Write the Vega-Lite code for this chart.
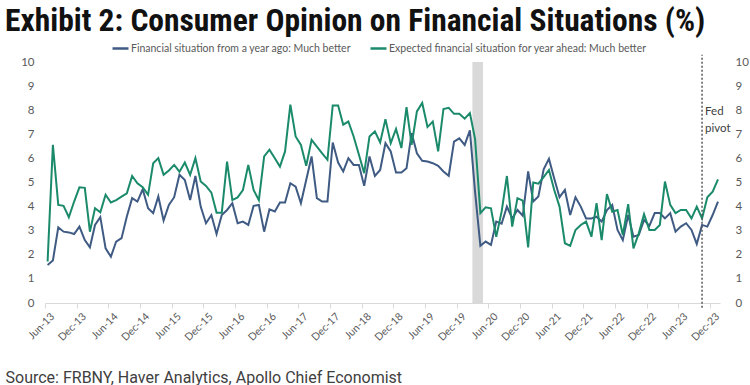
{
  "$schema": "https://vega.github.io/schema/vega-lite/v6.json",
  "width": 675,
  "height": 241,
  "autosize": {"type": "none"},
  "padding": {"left": 45, "top": 62, "right": 30, "bottom": 82},
  "background": "white",
  "title": {
    "text": "Exhibit 2: Consumer Opinion on Financial Situations (%)",
    "anchor": "start", "frame": "group", "dx": -40, "offset": -23, "baseline": "alphabetic",
    "font": "Liberation Sans Narrow, Roboto Condensed, Roboto", "fontWeight": "bold", "fontSize": 31.5, "color": "#111111"
  },
  "config": {
    "view": {"stroke": null},
    "axisX": {"labelOverlap": false}
  },
  "resolve": {"scale": {"y": "independent"}, "axis": {"y": "independent"}},
  "layer": [
    {
      "data": {"values": [{"s": "2020-03-01", "e": "2020-05-01"}]},
      "mark": {"type": "rect", "color": "#d9d9d9"},
      "encoding": {
        "x": {"field": "s", "type": "temporal",
              "scale": {"type": "utc", "domain": [{"year": 2013, "month": "jun", "date": 1, "utc": true}, {"year": 2024, "month": "jan", "date": 28, "utc": true}]},
              "axis": {
                "values": [
                  {"year":2013,"month":6,"date":1,"utc":true},{"year":2013,"month":12,"date":1,"utc":true},
                  {"year":2014,"month":6,"date":1,"utc":true},{"year":2014,"month":12,"date":1,"utc":true},
                  {"year":2015,"month":6,"date":1,"utc":true},{"year":2015,"month":12,"date":1,"utc":true},
                  {"year":2016,"month":6,"date":1,"utc":true},{"year":2016,"month":12,"date":1,"utc":true},
                  {"year":2017,"month":6,"date":1,"utc":true},{"year":2017,"month":12,"date":1,"utc":true},
                  {"year":2018,"month":6,"date":1,"utc":true},{"year":2018,"month":12,"date":1,"utc":true},
                  {"year":2019,"month":6,"date":1,"utc":true},{"year":2019,"month":12,"date":1,"utc":true},
                  {"year":2020,"month":6,"date":1,"utc":true},{"year":2020,"month":12,"date":1,"utc":true},
                  {"year":2021,"month":6,"date":1,"utc":true},{"year":2021,"month":12,"date":1,"utc":true},
                  {"year":2022,"month":6,"date":1,"utc":true},{"year":2022,"month":12,"date":1,"utc":true},
                  {"year":2023,"month":6,"date":1,"utc":true},{"year":2023,"month":12,"date":1,"utc":true}
                ],
                "tickCount": 40,
                "format": "%b-%y", "labelAngle": -45, "labelFont": "Lato", "labelFontSize": 10.5, "labelColor": "#595959",
                "labelOverlap": false, "labelFlush": false, "labelPadding": 3, "labelOffset": 4,
                "tickColor": "#d9d9d9", "tickSize": 5, "domainColor": "#d9d9d9", "grid": false,
                "title": "Source: FRBNY, Haver Analytics, Apollo Chief Economist",
                "titleFont": "Roboto", "titleFontSize": 16, "titleFontWeight": "normal", "titleColor": "#404040",
                "titleAnchor": "start", "titleAlign": "left", "titleBaseline": "alphabetic", "titleX": -40, "titleY": 79
              }},
        "x2": {"field": "e"},
        "y": {"datum": 0, "type": "quantitative", "scale": {"domain": [0, 10]},
              "axis": {"orient": "right", "title": null, "values": [0,1,2,3,4,5,6,7,8,9,10], "domain": false, "ticks": false, "grid": false,
                       "labelColor": "#595959", "labelFont": "Lato", "labelFontSize": 11.5, "labelPadding": 15}},
        "y2": {"datum": 10}
      }
    },
    {
      "data": {"values": [
        {"d":"2013-06","a":1.58,"b":1.72},{"d":"2013-07","a":1.76,"b":6.56},{"d":"2013-08","a":3.14,"b":4.07},{"d":"2013-09","a":2.96,"b":4.03},
        {"d":"2013-10","a":2.93,"b":3.56},{"d":"2013-11","a":2.86,"b":4.21},{"d":"2013-12","a":3.17,"b":4.80},{"d":"2014-01","a":2.61,"b":4.78},
        {"d":"2014-02","a":2.31,"b":2.96},{"d":"2014-03","a":3.24,"b":3.93},{"d":"2014-04","a":3.56,"b":3.76},{"d":"2014-05","a":2.27,"b":4.49},
        {"d":"2014-06","a":1.92,"b":4.17},{"d":"2014-07","a":2.55,"b":4.27},{"d":"2014-08","a":2.69,"b":4.41},{"d":"2014-09","a":3.59,"b":4.55},
        {"d":"2014-10","a":4.35,"b":5.27},{"d":"2014-11","a":4.21,"b":4.97},{"d":"2014-12","a":4.72,"b":4.80},{"d":"2015-01","a":3.93,"b":4.49},
        {"d":"2015-02","a":3.73,"b":5.80},{"d":"2015-03","a":4.42,"b":6.01},{"d":"2015-04","a":3.42,"b":5.32},{"d":"2015-05","a":4.07,"b":5.50},
        {"d":"2015-06","a":4.39,"b":5.73},{"d":"2015-07","a":5.32,"b":5.45},{"d":"2015-08","a":5.10,"b":5.83},{"d":"2015-09","a":4.27,"b":5.32},
        {"d":"2015-10","a":5.27,"b":6.01},{"d":"2015-11","a":4.00,"b":5.04},{"d":"2015-12","a":3.31,"b":4.86},{"d":"2016-01","a":3.65,"b":4.58},
        {"d":"2016-02","a":2.86,"b":3.75},{"d":"2016-03","a":3.65,"b":3.75},{"d":"2016-04","a":3.86,"b":5.87},{"d":"2016-05","a":4.14,"b":4.27},
        {"d":"2016-06","a":3.31,"b":4.38},{"d":"2016-07","a":3.38,"b":4.69},{"d":"2016-08","a":3.24,"b":5.73},{"d":"2016-09","a":4.03,"b":4.69},
        {"d":"2016-10","a":4.07,"b":4.27},{"d":"2016-11","a":2.96,"b":6.08},{"d":"2016-12","a":3.89,"b":6.36},{"d":"2017-01","a":3.80,"b":6.01},
        {"d":"2017-02","a":4.17,"b":5.66},{"d":"2017-03","a":4.17,"b":6.29},{"d":"2017-04","a":4.97,"b":8.23},{"d":"2017-05","a":4.83,"b":6.91},
        {"d":"2017-06","a":4.14,"b":6.56},{"d":"2017-07","a":5.10,"b":5.69},{"d":"2017-08","a":6.08,"b":6.77},{"d":"2017-09","a":4.35,"b":6.49},
        {"d":"2017-10","a":4.21,"b":6.21},{"d":"2017-11","a":4.21,"b":5.94},{"d":"2017-12","a":6.66,"b":8.20},{"d":"2018-01","a":5.83,"b":8.20},
        {"d":"2018-02","a":5.46,"b":7.40},{"d":"2018-03","a":6.01,"b":7.53},{"d":"2018-04","a":5.73,"b":6.91},{"d":"2018-05","a":5.73,"b":6.15},
        {"d":"2018-06","a":4.86,"b":5.39},{"d":"2018-07","a":6.08,"b":6.91},{"d":"2018-08","a":5.27,"b":7.12},{"d":"2018-09","a":5.52,"b":6.66},
        {"d":"2018-10","a":6.63,"b":7.63},{"d":"2018-11","a":6.29,"b":6.63},{"d":"2018-12","a":5.41,"b":7.22},{"d":"2019-01","a":5.41,"b":6.43},
        {"d":"2019-02","a":5.59,"b":8.13},{"d":"2019-03","a":7.05,"b":6.56},{"d":"2019-04","a":6.21,"b":7.95},{"d":"2019-05","a":5.90,"b":8.30},
        {"d":"2019-06","a":5.87,"b":7.30},{"d":"2019-07","a":5.80,"b":7.53},{"d":"2019-08","a":5.69,"b":6.29},{"d":"2019-09","a":5.46,"b":8.05},
        {"d":"2019-10","a":5.28,"b":8.10},{"d":"2019-11","a":6.70,"b":7.85},{"d":"2019-12","a":6.83,"b":7.85},{"d":"2020-01","a":6.56,"b":7.65},
        {"d":"2020-02","a":7.16,"b":7.88},{"d":"2020-03","a":4.60,"b":6.80},{"d":"2020-04","a":2.37,"b":3.73},{"d":"2020-05","a":2.55,"b":3.97},
        {"d":"2020-06","a":2.41,"b":3.93},{"d":"2020-07","a":3.38,"b":2.75},{"d":"2020-08","a":3.29,"b":3.79},{"d":"2020-09","a":4.00,"b":5.27},
        {"d":"2020-10","a":3.51,"b":3.17},{"d":"2020-11","a":3.86,"b":4.35},{"d":"2020-12","a":3.62,"b":4.25},{"d":"2021-01","a":5.46,"b":2.31},
        {"d":"2021-02","a":4.21,"b":5.00},{"d":"2021-03","a":4.42,"b":4.95},{"d":"2021-04","a":5.55,"b":5.22},{"d":"2021-05","a":5.98,"b":5.52},
        {"d":"2021-06","a":5.17,"b":4.69},{"d":"2021-07","a":4.39,"b":4.00},{"d":"2021-08","a":4.69,"b":2.48},{"d":"2021-09","a":3.65,"b":2.37},
        {"d":"2021-10","a":4.39,"b":3.03},{"d":"2021-11","a":4.00,"b":3.24},{"d":"2021-12","a":3.51,"b":3.38},{"d":"2022-01","a":3.51,"b":2.75},
        {"d":"2022-02","a":3.58,"b":4.14},{"d":"2022-03","a":3.38,"b":2.61},{"d":"2022-04","a":3.86,"b":4.52},{"d":"2022-05","a":4.07,"b":3.79},
        {"d":"2022-06","a":3.03,"b":3.86},{"d":"2022-07","a":2.61,"b":2.82},{"d":"2022-08","a":3.65,"b":4.10},{"d":"2022-09","a":2.75,"b":2.27},
        {"d":"2022-10","a":2.82,"b":2.89},{"d":"2022-11","a":3.45,"b":3.69},{"d":"2022-12","a":3.20,"b":3.03},{"d":"2023-01","a":3.73,"b":3.03},
        {"d":"2023-02","a":3.73,"b":3.24},{"d":"2023-03","a":3.51,"b":5.04},{"d":"2023-04","a":3.73,"b":4.07},{"d":"2023-05","a":2.96,"b":3.73},
        {"d":"2023-06","a":3.17,"b":3.86},{"d":"2023-07","a":3.31,"b":3.86},{"d":"2023-08","a":3.03,"b":3.51},{"d":"2023-09","a":2.45,"b":4.00},
        {"d":"2023-10","a":3.24,"b":3.51},{"d":"2023-11","a":3.17,"b":4.39},{"d":"2023-12","a":3.65,"b":4.62},{"d":"2024-01","a":4.21,"b":5.13}
      ]},
      "transform": [{"fold": ["a", "b"], "as": ["series", "value"]}],
      "mark": {"type": "line", "strokeWidth": 2},
      "encoding": {
        "x": {"field": "d", "type": "temporal", "timeUnit": "utcyearmonth", "bandPosition": 0.5,
              "scale": {"type": "utc", "domain": [{"year": 2013, "month": "jun", "date": 1, "utc": true}, {"year": 2024, "month": "jan", "date": 28, "utc": true}]}},
        "y": {"field": "value", "type": "quantitative", "scale": {"domain": [0, 10]},
              "axis": {"orient": "left", "title": null, "values": [0,1,2,3,4,5,6,7,8,9,10], "domain": false, "ticks": false, "grid": false,
                       "labelColor": "#595959", "labelFont": "Lato", "labelFontSize": 11.5, "labelPadding": 11}},
        "color": {"field": "series", "type": "nominal",
                  "scale": {"domain": ["a", "b"], "range": ["#3f5b83", "#1b8a6b"]},
                  "legend": {"orient": "none", "legendX": 66, "legendY": -23, "direction": "horizontal", "title": null,
                             "symbolType": "stroke", "symbolStrokeWidth": 2.5, "symbolSize": 256,
                             "labelFont": "Lato", "labelFontSize": 10.5, "labelColor": "#595959", "labelLimit": 400,
                             "columnPadding": 14, "labelOffset": 1, "padding": 0,
                             "labelExpr": "datum.label == 'a' ? 'Financial situation from a year ago: Much better' : 'Expected financial situation for year ahead: Much better'"}}
      }
    },
    {
      "data": {"values": [{"d": "2023-10"}]},
      "mark": {"type": "rule", "color": "#555555", "strokeWidth": 1.5, "strokeDash": [2, 2]},
      "encoding": {
        "x": {"field": "d", "type": "temporal", "timeUnit": "utcyearmonth", "bandPosition": 0.5,
              "scale": {"type": "utc", "domain": [{"year": 2013, "month": "jun", "date": 1, "utc": true}, {"year": 2024, "month": "jan", "date": 28, "utc": true}]}},
        "y": {"datum": -0.2, "type": "quantitative", "scale": {"domain": [0, 10]}, "axis": null},
        "y2": {"datum": 10.3}
      }
    },
    {
      "data": {"values": [{"d": "2023-10"}]},
      "mark": {"type": "text", "text": ["Fed", "pivot"], "align": "left", "baseline": "middle", "dx": 3, "lineHeight": 17,
               "font": "Lato", "fontSize": 11.5, "color": "#404040"},
      "encoding": {
        "x": {"field": "d", "type": "temporal", "timeUnit": "utcyearmonth", "bandPosition": 0.5,
              "scale": {"type": "utc", "domain": [{"year": 2013, "month": "jun", "date": 1, "utc": true}, {"year": 2024, "month": "jan", "date": 28, "utc": true}]}},
        "y": {"datum": 7.94, "type": "quantitative", "scale": {"domain": [0, 10]}, "axis": null}
      }
    }
  ]
}
